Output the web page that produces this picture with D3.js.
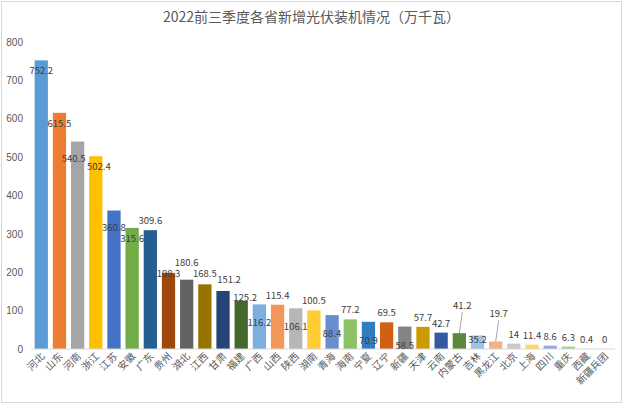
<!DOCTYPE html>
<html lang="zh">
<head>
<meta charset="UTF-8">
<script src="https://d3js.org/d3.v7.min.js"></script>
<style>
  body { margin: 0; background: #fff; font-family: "Noto Sans CJK SC", "DejaVu Sans", sans-serif; }
  .tick text { fill: #595959; }
</style>
</head>
<body>
<svg id="chart" width="623" height="404"></svg>
<script>
// data
const provinces = ["河北","山东","河南","浙江","江苏","安徽","广东","贵州","湖北","江西","甘肃","福建","广西","山西","陕西","湖南","青海","海南","宁夏","辽宁","新疆","天津","云南","内蒙古","吉林","黑龙江","北京","上海","四川","重庆","西藏","新疆兵团"];
const values = [752.2,615.5,540.5,502.4,360.8,315.6,309.6,198.3,180.6,168.5,151.2,125.2,116.2,115.4,106.1,100.5,88.4,77.2,70.9,69.5,58.5,57.7,42.7,41.2,35.2,19.7,14,11.4,8.6,6.3,0.4,0];
const colors = ["#5b9bd5","#ed7d31","#a5a5a5","#ffc000","#4472c4","#70ad47","#255e91","#9e480e","#636363","#997300","#264478","#43682b","#7cafdd","#f1975a","#b7b7b7","#ffcd33","#698ed0","#8cc168","#327dc2","#d26012","#848484","#cc9a00","#335aa1","#5a8a39","#9dc3e6","#f4b183","#c9c9c9","#ffd966","#8faadc","#a9d18e","#7f9cc0","#b4c7e7"];
// label offset from bar top (negative = above)
const labelDy = [14,14,20,14,20,14,-6,4,-14,-7,-8,0,22,-6,22,-6,22,-6,22,-6,22,-6,-6,-24,8,-24,-6,-6,-6,-6,-6,-6];
const labelDx = [0,0,-4,3,0,0,0,0,0,0,6,4,0,0,0,0,0,0,0,0,0,0,0,0,0,0,0,0,0,0,0,0];
const yTicks = [0,100,200,300,400,500,600,700,800];

const svg = d3.select("#chart");
const margin = { top: 42, right: 8, bottom: 55, left: 31 };
const W = 623, H = 404;

svg.append("rect").attr("x", 1.5).attr("y", 1.5).attr("width", W - 3).attr("height", H - 3)
  .attr("fill", "#fff").attr("stroke", "#d9d9d9");

svg.append("text").attr("x", W / 2).attr("y", 22).attr("text-anchor", "middle")
  .attr("font-size", 14).attr("fill", "#595959").text("2022前三季度各省新增光伏装机情况（万千瓦）");

const x = d3.scaleBand().domain(provinces).range([margin.left, W - margin.right]).paddingInner(0.27).paddingOuter(0.2);
const y = d3.scaleLinear().domain([0, 800]).range([H - margin.bottom, margin.top]);

const yAxis = svg.append("g").attr("transform", `translate(${margin.left},0)`)
  .call(d3.axisLeft(y).tickValues(yTicks).tickSize(0).tickPadding(8));
yAxis.select(".domain").remove();
yAxis.selectAll("text").attr("font-size", 10);

svg.selectAll("rect.bar").data(values).enter().append("rect")
  .attr("class", "bar")
  .attr("x", (d, i) => x(provinces[i]))
  .attr("y", d => y(d))
  .attr("width", x.bandwidth())
  .attr("height", d => y(0) - y(d))
  .attr("fill", (d, i) => colors[i]);

svg.append("line").attr("x1", margin.left).attr("x2", W - margin.right)
  .attr("y1", y(0)).attr("y2", y(0)).attr("stroke", "#d9d9d9");

// leader lines for displaced labels
svg.selectAll("line.leader").data(values.map((v, i) => i).filter(i => labelDy[i] < -15)).enter()
  .append("line").attr("class", "leader")
  .attr("x1", i => x(provinces[i]) + x.bandwidth() / 2).attr("x2", i => x(provinces[i]) + x.bandwidth() / 2 + 3)
  .attr("y1", i => y(values[i])).attr("y2", i => y(values[i]) + labelDy[i] + 3)
  .attr("stroke", "#a6a6a6");

svg.selectAll("text.val").data(values).enter().append("text")
  .attr("class", "val")
  .attr("x", (d, i) => x(provinces[i]) + x.bandwidth() / 2 + labelDx[i] + (labelDy[i] < -15 ? 3 : 0))
  .attr("y", (d, i) => y(d) + labelDy[i])
  .attr("text-anchor", "middle").attr("font-size", 9.5).attr("fill", "#404040")
  .text(d => d);

svg.selectAll("text.cat").data(provinces).enter().append("text")
  .attr("class", "cat")
  .attr("transform", d => `translate(${x(d) + x.bandwidth() / 2 + 4},${y(0) + 8}) rotate(-45)`)
  .attr("text-anchor", "end").attr("font-size", 10).attr("fill", "#595959")
  .text(d => d);
</script>
</body>
</html>
